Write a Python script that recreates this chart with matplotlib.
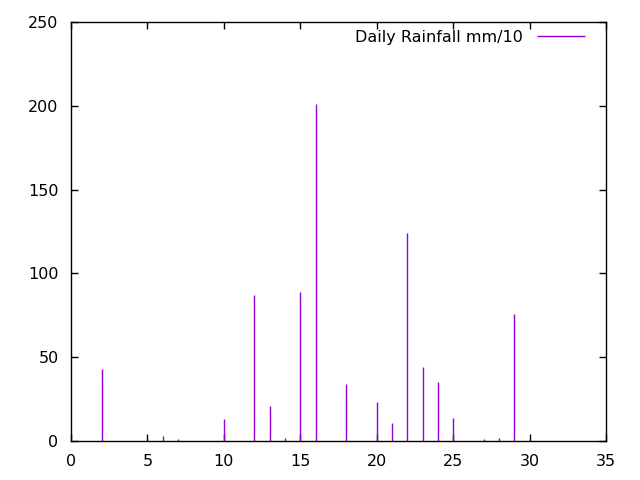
import matplotlib
matplotlib.use("Agg")
import matplotlib.pyplot as plt

# day of month and daily rainfall (mm/10)
days = [2, 6, 7, 10, 12, 13, 14, 15, 16, 18, 20, 21, 22, 23, 24, 25, 27, 28, 29]
rain = [43, 3, 1, 13, 87, 21, 2, 89, 201, 34, 23, 11, 124, 44, 35, 14, 1, 2, 76]

x_ticks = [0, 5, 10, 15, 20, 25, 30, 35]
y_ticks = [0, 50, 100, 150, 200, 250]

plt.rcParams['font.family'] = ['DejaVu Sans']
fig = plt.figure(figsize=(6.4, 4.8), dpi=100)
ax = fig.add_axes([71 / 640, 39 / 480, 535 / 640, 419 / 480])

ax.vlines(days, 0, rain, color="#9400d3", linewidth=1, label="Daily Rainfall mm/10")

ax.set_xlim(0, 35)
ax.set_ylim(0, 250)
ax.set_xticks(x_ticks)
ax.set_yticks(y_ticks)
ax.tick_params(direction="in", length=5, width=1, top=True, right=True,
               labelsize=11.5, pad=9, colors="black")
for s in ax.spines.values():
    s.set_linewidth(1)

ax.legend(loc="upper right", bbox_to_anchor=(0.961, 0.981), frameon=False,
          markerfirst=False, fontsize=11.5, handlelength=3.0,
          borderaxespad=0, borderpad=0, handletextpad=0.9)

fig.savefig("out.png", dpi=100)
